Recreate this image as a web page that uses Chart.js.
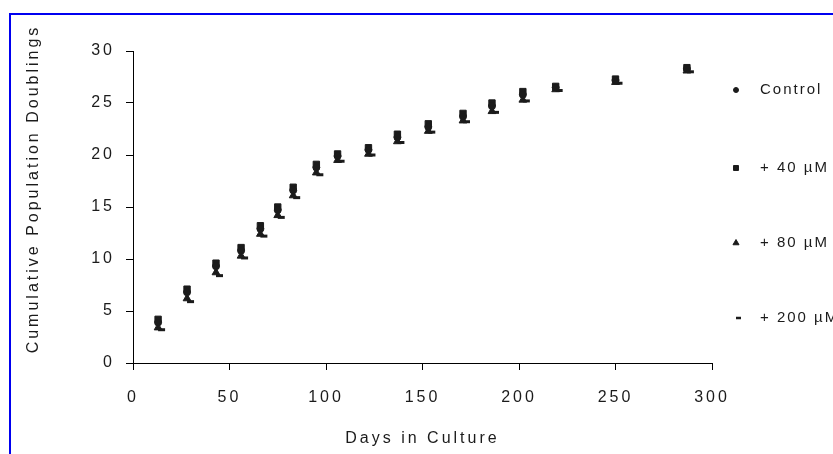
<!DOCTYPE html>
<html>
<head>
<meta charset="utf-8">
<title>Cumulative Population Doublings</title>
<script src="https://cdn.jsdelivr.net/npm/chart.js@4.4.1/dist/chart.umd.min.js"></script>
<style>
    html, body { margin: 0; padding: 0; background: #fff; overflow: hidden; }
    #wrap { position: relative; width: 833px; height: 454px; overflow: hidden; }
    #frame { position: absolute; left: 9px; top: 13px; width: 900px; height: 500px;
             border-left: 2px solid #0000f0; border-top: 2px solid #0000f0; }
    canvas { position: absolute; left: 0; top: 0; }
</style>
</head>
<body>
<div id="wrap">
    <div id="frame"></div>
    <canvas id="pdChart" width="833" height="454"></canvas>
</div>
<script>
"use strict";

// days in culture (shared by all four series)
const days = [13, 28, 43, 56, 66, 75, 83, 95, 106, 122, 137, 153, 171, 186, 202, 219, 250, 287];

// cumulative population doublings
const control = [3.9, 6.8, 9.3, 10.8, 12.9, 14.7, 16.6, 18.8, 19.9, 20.5, 21.7, 22.7, 23.7, 24.7, 25.8, 26.5, 27.2, 28.3];
const plus40  = [4.2, 7.1, 9.6, 11.1, 13.2, 15.0, 16.9, 19.1, 20.1, 20.7, 22.0, 23.0, 24.0, 25.0, 26.1, 26.6, 27.3, 28.4];
const plus80  = [3.4, 6.2, 8.7, 10.3, 12.4, 14.2, 16.1, 18.3, 19.5, 20.1, 21.3, 22.3, 23.3, 24.2, 25.3, 26.3, 27.0, 28.1];
const plus200 = [3.2, 5.9, 8.4, 10.1, 12.2, 14.0, 15.9, 18.1, 19.4, 20.0, 21.2, 22.2, 23.2, 24.1, 25.2, 26.2, 26.9, 28.0];

const seriesLabels = ['Control', '+ 40 \u00b5M', '+ 80 \u00b5M', '+ 200 \u00b5M'];
const xTickStep = 50;
const yTickStep = 5;
const xTitle = 'Days in Culture';
const yTitle = 'Cumulative Population Doublings';

const FONT = "'Liberation Sans', Arial, sans-serif";
const INK = '#1b1b1b';

function toPoints(vals) {
    return days.map((d, i) => ({ x: d, y: vals[i] }));
}

// spread the glyphs out a bit like the scanned original
const spacing = {
    id: 'spacing',
    beforeUpdate(chart) { chart.ctx.letterSpacing = '3px'; },
    beforeDraw(chart) { chart.ctx.letterSpacing = '3px'; }
};

// y title sits a little above the middle of the axis in the original
const sideTitle = {
    id: 'sideTitle',
    afterDraw(chart, args, opts) {
        const ctx = chart.ctx;
        ctx.save();
        ctx.font = opts.font;
        ctx.letterSpacing = '3px';
        ctx.fillStyle = INK;
        ctx.textAlign = 'center';
        ctx.textBaseline = 'middle';
        ctx.translate(opts.x, opts.y);
        ctx.rotate(-Math.PI / 2);
        ctx.fillText(opts.text, 0, 0);
        ctx.restore();
    }
};

// legend sits to the right with big gaps between rows, so draw it by hand
const sideLegend = {
    id: 'sideLegend',
    afterDraw(chart, args, opts) {
        const ctx = chart.ctx;
        ctx.save();
        ctx.font = opts.font;
        ctx.letterSpacing = '2px';
        ctx.textBaseline = 'middle';
        chart.data.datasets.forEach((ds, i) => {
            const y = opts.rows[i];
            ctx.fillStyle = INK;
            ctx.strokeStyle = INK;
            ctx.lineWidth = opts.markerWidth[i];
            Chart.helpers.drawPoint(ctx, {
                pointStyle: ds.pointStyle,
                radius: opts.markerRadius[i],
                borderWidth: opts.markerWidth[i],
                rotation: 0
            }, opts.markerX, y);
            ctx.fillText(ds.label, opts.textX, y);
        });
        ctx.restore();
    }
};

const ctx = document.getElementById('pdChart').getContext('2d');
new Chart(ctx, {
    type: 'scatter',
    data: {
        datasets: [
            {
                label: seriesLabels[0],
                data: toPoints(control),
                pointStyle: 'circle',
                pointRadius: 3.5,
                borderWidth: 1,
                backgroundColor: INK,
                borderColor: INK
            },
            {
                label: seriesLabels[1],
                data: toPoints(plus40),
                pointStyle: 'rect',
                pointRadius: 4.5,
                borderWidth: 1,
                backgroundColor: INK,
                borderColor: INK
            },
            {
                label: seriesLabels[2],
                data: toPoints(plus80),
                pointStyle: 'triangle',
                pointRadius: 4.5,
                borderWidth: 1,
                backgroundColor: INK,
                borderColor: INK
            },
            {
                label: seriesLabels[3],
                data: toPoints(plus200),
                pointStyle: 'dash',
                pointRadius: 7,
                borderWidth: 3,
                backgroundColor: INK,
                borderColor: INK
            }
        ]
    },
    options: {
        responsive: false,
        animation: false,
        events: [],
        layout: {
            padding: { left: 0, right: 121, top: 51, bottom: 0 }
        },
        scales: {
            x: {
                type: 'linear',
                min: 0,
                max: 300,
                afterFit(scale) { scale.height = 91; },
                ticks: {
                    stepSize: xTickStep,
                    padding: 18,
                    color: INK,
                    font: { family: FONT, size: 16 }
                },
                grid: {
                    display: true,
                    drawOnChartArea: false,
                    drawTicks: true,
                    tickLength: 7,
                    color: '#000'
                },
                border: { display: true, color: '#000', width: 1 },
                title: {
                    display: true,
                    text: xTitle,
                    color: INK,
                    font: { family: FONT, size: 16 },
                    padding: { top: 0, bottom: 6 }
                }
            },
            y: {
                type: 'linear',
                min: 0,
                max: 30,
                afterFit(scale) { scale.width = 133; },
                ticks: {
                    stepSize: yTickStep,
                    padding: 11,
                    color: INK,
                    font: { family: FONT, size: 16 }
                },
                grid: {
                    display: true,
                    drawOnChartArea: false,
                    drawTicks: true,
                    tickLength: 7,
                    color: '#000'
                },
                border: { display: true, color: '#000', width: 1 },
                title: { display: false }
            }
        },
        plugins: {
            legend: { display: false },
            tooltip: { enabled: false },
            sideTitle: {
                text: yTitle,
                font: '16px ' + FONT,
                x: 34,
                y: 189
            },
            sideLegend: {
                font: '15px ' + FONT,
                markerX: 736,
                textX: 760,
                rows: [90, 168, 243, 318],
                markerRadius: [2.5, 3.5, 3.5, 5],
                markerWidth: [1, 1, 1, 2.5]
            }
        }
    },
    plugins: [spacing, sideTitle, sideLegend]
});
</script>
</body>
</html>
